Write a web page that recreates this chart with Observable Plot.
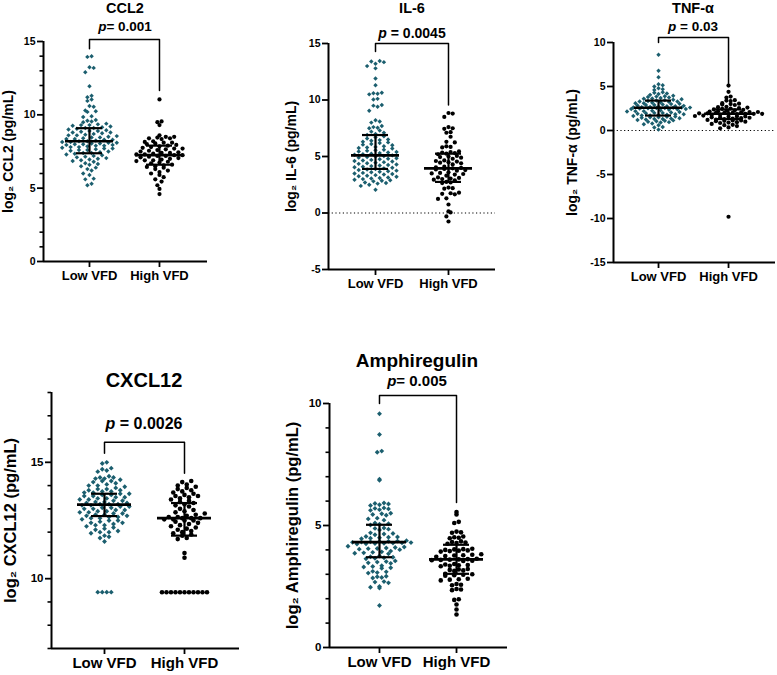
<!DOCTYPE html>
<html><head><meta charset="utf-8">
<script src="https://cdn.jsdelivr.net/npm/d3@7"></script>
<script src="https://cdn.jsdelivr.net/npm/@observablehq/plot@0.6"></script>
<style>
body{margin:0;background:#fff;}
#chart{position:relative;width:777px;height:675px;overflow:hidden;font-family:"Liberation Sans",Arial,sans-serif;font-weight:bold;color:#000;}
.ttl,.pv{position:absolute;transform:translate(-50%,-50%);white-space:nowrap;line-height:1;}
.panel{position:absolute;}
</style></head><body><div id="chart"></div>
<script>
const groups = ["Low VFD", "High VFD"];

// ---- CCL2 ----
const ccl2Low = [14.0,13.95,13.25,13.2,12.9,11.95,11.3,11.2,11.05,10.95,10.6,10.55,10.3,10.25,10.2,9.9,9.85,9.65,9.6,9.55,9.5,9.4,9.35,9.3,9.3,9.25,9.2,9.15,9.1,9.1,9.05,9.0,8.95,8.9,8.9,8.85,8.8,8.8,8.75,8.7,8.65,8.6,8.6,8.55,8.5,8.45,8.45,8.4,8.35,8.35,8.3,8.3,8.25,8.2,8.2,8.15,8.15,8.1,8.1,8.05,8.05,8.0,8.0,7.95,7.95,7.9,7.9,7.85,7.8,7.8,7.75,7.7,7.7,7.65,7.6,7.6,7.55,7.5,7.45,7.4,7.4,7.35,7.3,7.25,7.2,7.15,7.1,7.05,7.0,6.95,6.9,6.85,6.8,6.7,6.65,6.6,6.5,6.4,6.3,6.2,6.0,5.9,5.65,5.6,5.3,5.2];
const ccl2High = [11.05,9.55,9.5,9.3,8.6,8.5,8.5,8.45,8.4,8.4,8.35,8.2,8.15,8.1,8.1,8.05,8.0,7.95,7.9,7.85,7.8,7.75,7.7,7.7,7.65,7.6,7.55,7.5,7.45,7.4,7.4,7.35,7.3,7.3,7.25,7.25,7.2,7.2,7.15,7.1,7.05,7.0,6.95,6.9,6.9,6.85,6.8,6.75,6.7,6.6,6.55,6.5,6.45,6.4,6.3,6.2,6.1,6.0,5.9,5.75,5.6,5.45,5.2,4.95,4.6];
const ccl2Stats = [[7.38,8.2,9.09],[6.6,7.25,7.9]];   // [Q1, median, Q3]
const ccl2Bracket = [14.5,15.14,11.66];              // left leg end, top, right leg end

// ---- IL-6 ----
const il6Low = [13.45,13.4,13.35,13.2,13.0,12.8,11.9,11.3,10.65,10.6,10.55,10.5,10.1,10.05,9.55,9.5,9.4,9.05,8.2,8.1,8.0,7.7,7.6,7.55,7.5,7.3,7.2,7.1,7.0,6.9,6.8,6.7,6.6,6.5,6.45,6.4,6.3,6.25,6.2,6.1,6.05,6.0,5.9,5.85,5.8,5.75,5.7,5.6,5.55,5.5,5.45,5.4,5.35,5.3,5.25,5.2,5.15,5.1,5.05,5.0,4.95,4.9,4.85,4.8,4.75,4.7,4.65,4.6,4.55,4.5,4.45,4.4,4.35,4.3,4.25,4.2,4.15,4.1,4.05,4.0,3.95,3.9,3.85,3.8,3.75,3.7,3.65,3.6,3.55,3.5,3.45,3.4,3.35,3.3,3.25,3.2,3.15,3.1,3.05,3.0,2.95,2.9,2.85,2.8,2.7,2.65,2.6,2.5,2.4,2.05];
const il6High = [8.85,8.8,8.5,7.6,7.5,7.45,7.15,7.1,6.75,6.3,6.25,5.9,5.85,5.8,5.45,5.4,5.35,5.3,5.25,5.2,5.05,5.0,4.95,4.9,4.8,4.65,4.6,4.55,4.5,4.45,4.4,4.3,4.1,4.05,4.0,3.95,3.9,3.85,3.8,3.75,3.6,3.55,3.5,3.45,3.4,3.3,3.15,3.1,3.05,3.0,2.95,2.9,2.75,2.7,2.65,2.25,2.2,2.15,1.8,1.75,1.7,1.65,1.3,1.25,0.75,0.15,0.05,-0.3,-0.75];
const il6Stats = [[3.9,5.1,6.9],[2.75,3.95,5.25]];
const il6Bracket = [14.3,15.0,9.56];

// ---- TNF-alpha ----
const tnfLow = [8.6,6.8,6.05,5.25,5.15,5.0,4.8,4.7,4.6,4.35,4.3,4.2,4.15,4.05,3.95,3.9,3.85,3.8,3.75,3.7,3.65,3.6,3.55,3.5,3.45,3.4,3.35,3.3,3.3,3.25,3.2,3.15,3.1,3.1,3.05,3.0,2.95,2.9,2.9,2.85,2.8,2.75,2.75,2.7,2.68,2.65,2.62,2.6,2.6,2.58,2.55,2.55,2.52,2.5,2.45,2.45,2.4,2.35,2.3,2.25,2.2,2.2,2.15,2.1,2.05,2.0,2.0,1.95,1.9,1.85,1.85,1.8,1.75,1.7,1.7,1.65,1.6,1.55,1.5,1.5,1.45,1.4,1.35,1.3,1.3,1.25,1.2,1.15,1.1,1.05,1.0,0.95,0.9,0.8,0.7,0.6,0.4,0.35,0.1];
const tnfHigh = [5.1,4.4,3.85,3.75,3.45,3.4,3.35,3.1,3.05,3.0,2.95,2.9,2.7,2.65,2.6,2.55,2.5,2.45,2.4,2.35,2.3,2.25,2.2,2.15,2.1,2.1,2.05,2.0,2.0,2.0,1.95,1.95,1.9,1.9,1.9,1.85,1.85,1.8,1.75,1.7,1.65,1.6,1.6,1.55,1.5,1.5,1.45,1.4,1.35,1.3,1.25,1.2,1.15,1.15,1.1,1.05,1.0,0.95,0.9,0.85,0.75,0.65,0.6,0.5,0.35,0.25,-9.8];
const tnfStats = [[1.7,2.58,3.4],[1.3,1.9,2.4]];
const tnfBracket = [10.0,10.57,5.3];

// ---- CXCL12 ----
const cxcl12Low = [15.0,14.95,14.75,14.7,14.65,14.6,14.4,14.35,14.35,14.3,14.3,14.25,14.2,14.2,14.15,14.1,14.05,14.0,14.0,13.95,13.9,13.85,13.85,13.8,13.8,13.75,13.75,13.7,13.7,13.65,13.65,13.6,13.6,13.55,13.55,13.5,13.5,13.45,13.45,13.4,13.4,13.35,13.35,13.3,13.3,13.25,13.25,13.2,13.2,13.2,13.15,13.15,13.1,13.1,13.05,13.05,13.0,13.0,12.95,12.95,12.9,12.9,12.85,12.85,12.8,12.8,12.75,12.75,12.7,12.7,12.65,12.65,12.6,12.6,12.55,12.5,12.5,12.45,12.4,12.4,12.35,12.3,12.3,12.25,12.2,12.15,12.1,12.05,12.0,12.0,11.95,11.85,11.8,11.75,11.6,9.42,9.42,9.42,9.42];
const cxcl12High = [14.2,14.15,14.05,14.0,13.95,13.9,13.85,13.8,13.75,13.7,13.65,13.6,13.55,13.55,13.5,13.45,13.4,13.35,13.3,13.25,13.2,13.15,13.1,13.0,12.95,12.9,12.85,12.8,12.75,12.7,12.65,12.65,12.6,12.6,12.6,12.55,12.55,12.5,12.5,12.45,12.4,12.35,12.3,12.25,12.2,12.15,12.1,12.05,12.0,11.95,11.9,11.85,11.75,11.7,11.1,10.9,9.42,9.42,9.42,9.42,9.42,9.42,9.42,9.42,9.42,9.42,9.42];
const cxcl12Stats = [[12.69,13.18,13.65],[11.85,12.6,13.25]];
const cxcl12Bracket = [15.39,15.86,14.53];

// ---- Amphiregulin ----
const amphLow = [9.58,8.73,8.05,8.0,6.9,6.85,5.92,5.9,5.88,5.85,5.82,5.72,5.7,5.68,5.65,5.62,5.5,5.48,5.45,5.42,5.3,5.27,5.22,5.1,5.07,5.05,5.02,4.9,4.88,4.85,4.82,4.7,4.67,4.65,4.62,4.55,4.53,4.52,4.5,4.48,4.46,4.38,4.36,4.35,4.34,4.33,4.32,4.31,4.3,4.29,4.28,4.27,4.26,4.25,4.24,4.15,4.12,4.1,4.08,4.06,4.05,4.03,4.01,3.95,3.92,3.9,3.88,3.86,3.84,3.75,3.72,3.7,3.68,3.66,3.64,3.55,3.52,3.5,3.47,3.45,3.35,3.32,3.3,3.27,3.25,3.12,3.1,3.07,3.05,2.92,2.9,2.87,2.85,2.7,2.68,2.65,2.5,2.47,2.44,1.72];
const amphHigh = [5.55,5.45,5.15,5.1,4.75,4.72,4.7,4.55,4.52,4.5,4.48,4.35,4.32,4.3,4.28,4.25,4.05,4.03,4.02,4.0,3.98,3.97,3.95,3.93,3.82,3.8,3.78,3.77,3.75,3.72,3.64,3.62,3.61,3.6,3.59,3.58,3.56,3.55,3.42,3.4,3.38,3.37,3.35,3.33,3.22,3.2,3.18,3.16,3.14,3.02,3.0,2.98,2.96,2.94,2.82,2.8,2.78,2.75,2.6,2.57,2.55,2.4,2.38,2.35,1.98,1.95,1.76,1.56,1.35];
const amphStats = [[3.70,4.32,5.03],[3.02,3.61,4.21]];
const amphBracket = [10.0,10.33,5.94];

// tick labels
const ticksCCL2 = [0,5,10,15], minorCCL2 = [1,2,3,4,6,7,8,9,11,12,13,14];
const ticksIL6 = [-5,0,5,10,15];
const ticksTNF = [-15,-10,-5,0,5,10];
const ticksCXCL12 = [10,15], minorCXCL12 = [7,8,9,11,12,13,14,16,17,18];
const ticksAmph = [0,5,10], minorAmph = [1,2,3,4,6,7,8,9];

const teal = "#1b5e6e";

const panels = [
  {title:"CCL2", p:"= 0.001", ylab:"log\u2082 CCL2 (pg/mL)", low:ccl2Low, high:ccl2High, stats:ccl2Stats, bracket:ccl2Bracket,
   ticks:ticksCCL2, minor:minorCCL2, yDomain:[0,15], zero:false,
   left:0, top:0, width:215, height:295, mL:43, mR:8, mT:41, mB:34, xDomain:[-0.657,1.686],
   labOff:40, fs:{tick:10.5, x:13, lab:14, title:14.5, p:13.5}, titleXY:[125,8], pXY:[125,27], r:[2.0,2.1], sp:4.2, band:1.5},
  {title:"IL-6", p:" = 0.0045", ylab:"log\u2082 IL-6 (pg/mL)", low:il6Low, high:il6High, stats:il6Stats, bracket:il6Bracket,
   ticks:ticksIL6, minor:null, yDomain:[-5,15], zero:true,
   left:260, top:0, width:250, height:300, mL:68, mR:15, mT:43, mB:31, xDomain:[-0.644,1.644],
   labOff:42, fs:{tick:10.5, x:13, lab:14, title:14.5, p:14}, titleXY:[412,8], pXY:[412,33], r:[2.0,2.1], sp:4.2, band:1.5},
  {title:"TNF-\u03b1", p:" = 0.03", ylab:"log\u2082 TNF-\u03b1 (pg/mL)", low:tnfLow, high:tnfHigh, stats:tnfStats, bracket:tnfBracket,
   ticks:ticksTNF, minor:null, yDomain:[-15,10], zero:true,
   left:515, top:0, width:262, height:295, mL:98, mR:2, mT:42, mB:33, xDomain:[-0.643,1.671],
   labOff:46, fs:{tick:10.5, x:13, lab:14, title:14.5, p:13.5}, titleXY:[693,8], pXY:[693,27], r:[2.0,2.1], sp:4.2, band:1.0},
  {title:"CXCL12", p:" = 0.0026", ylab:"log\u2082 CXCL12 (pg/mL)", low:cxcl12Low, high:cxcl12High, stats:cxcl12Stats, bracket:cxcl12Bracket,
   ticks:ticksCXCL12, minor:minorCXCL12, yDomain:[7,18], zero:false,
   left:0, top:300, width:250, height:375, mL:51, mR:11, mT:92, mB:27, xDomain:[-0.6625,1.6875],
   labOff:47, fs:{tick:11.5, x:15, lab:16.5, title:20, p:16}, titleXY:[144,380], pXY:[144,424], r:[2.2,2.3], sp:4.5, band:1.5},
  {title:"Amphiregulin", p:"= 0.005", ylab:"log\u2082 Amphiregulin (pg/mL)", low:amphLow, high:amphHigh, stats:amphStats, bracket:amphBracket,
   ticks:ticksAmph, minor:minorAmph, yDomain:[0,10], zero:false,
   left:260, top:300, width:255, height:375, mL:69, mR:8, mT:103, mB:28, xDomain:[-0.649,1.662],
   labOff:43, fs:{tick:11.5, x:15, lab:16.5, title:19, p:15}, titleXY:[417,360], pXY:[417,380], r:[2.2,2.3], sp:4.5, band:1.5}
];

const chart = document.getElementById("chart");

for (const c of panels) {
  const yS = d3.scaleLinear(c.yDomain, [c.height - c.mB, c.mT]);
  const pxX = (c.width - c.mL - c.mR) / (c.xDomain[1] - c.xDomain[0]);
  const rowH = c.sp * c.band;   // row band height (px) used to group points side by side
  function swarm(vals, gi) {
    const bins = d3.group(vals, v => Math.round(yS(v) / rowH));
    const out = [];
    for (const [, arr] of bins) {
      const s = arr.slice().sort(d3.ascending);
      const n = s.length, half = Math.ceil(n / 2);
      for (let j = 0; j < n; j++) {
        const v = j % 2 === 0 ? s[j / 2] : s[half + (j - 1) / 2];
        out.push({g: gi, x: gi + (j - (n - 1) / 2) * c.sp / pxX, y: v});
      }
    }
    return out;
  }
  const lowPts = swarm(c.low, 0), highPts = swarm(c.high, 1);
  const stats = c.stats.map((s, g) => ({g, q1: s[0], med: s[1], q3: s[2]}));
  const medHW = (c.fs.x >= 15 ? 27 : 24) / pxX, qHW = 13 / pxX;
  const br = c.bracket;
  const bracketPts = [{x:0,y:br[0]},{x:0,y:br[1]},{x:1,y:br[1]},{x:1,y:br[2]}];

  const svg = Plot.plot({
    width: c.width, height: c.height,
    marginLeft: c.mL, marginRight: c.mR, marginTop: c.mT, marginBottom: c.mB,
    x: {domain: c.xDomain},
    y: {domain: c.yDomain},
    style: {fontFamily: "'Liberation Sans', Arial, sans-serif", fontWeight: "bold", color: "#000", background: "transparent", overflow: "visible"},
    marks: [
      c.zero ? Plot.ruleY([0], {stroke: "#000", strokeWidth: 1.2, strokeDasharray: "1.2,2.5"}) : null,
      Plot.dot(lowPts, {x: "x", y: "y", symbol: "diamond2", r: c.r[0], fill: teal, stroke: "none"}),
      Plot.dot(highPts, {x: "x", y: "y", symbol: "circle", r: c.r[1], fill: "#000", stroke: "none"}),
      Plot.ruleY(stats, {y: "med", x1: d => d.g - medHW, x2: d => d.g + medHW, stroke: "#000", strokeWidth: 2.6}),
      Plot.ruleY(stats, {y: "q1", x1: d => d.g - qHW, x2: d => d.g + qHW, stroke: "#000", strokeWidth: 2.2}),
      Plot.ruleY(stats, {y: "q3", x1: d => d.g - qHW, x2: d => d.g + qHW, stroke: "#000", strokeWidth: 2.2}),
      Plot.ruleX(stats, {x: "g", y1: "q1", y2: "q3", stroke: "#000", strokeWidth: 2.2}),
      Plot.line(bracketPts, {x: "x", y: "y", stroke: "#000", strokeWidth: 1.5, clip: false}),
      Plot.ruleX([c.xDomain[0]], {stroke: "#000", strokeWidth: 2}),
      Plot.ruleY([c.yDomain[0]], {stroke: "#000", strokeWidth: 2}),
      Plot.axisY(c.ticks, {tickSize: 6, tickPadding: 2, fontSize: c.fs.tick, fontWeight: "bold", fill: "#000", stroke: "#000", strokeWidth: 1.8, label: null, tickFormat: d => String(d)}),
      c.minor ? Plot.axisY(c.minor, {tickSize: 3.5, stroke: "#000", strokeWidth: 1.6, tickFormat: () => "", label: null}) : null,
      Plot.axisY([], {tickSize: 0, label: c.ylab, labelArrow: "none", labelAnchor: "center", labelOffset: c.labOff, fontSize: c.fs.lab, fontWeight: "bold", fill: "#000"}),
      Plot.axisX([0, 1], {tickSize: 6, tickPadding: 3, stroke: "#000", strokeWidth: 1.8, fontSize: c.fs.x, fontWeight: "bold", fill: "#000", tickFormat: i => groups[i], label: null})
    ]
  });
  svg.classList.add("panel");
  svg.style.left = c.left + "px";
  svg.style.top = c.top + "px";
  chart.appendChild(svg);

  const t = document.createElement("div");
  t.className = "ttl";
  t.style.left = c.titleXY[0] + "px"; t.style.top = c.titleXY[1] + "px"; t.style.fontSize = c.fs.title + "px";
  t.textContent = c.title;
  chart.appendChild(t);

  const pv = document.createElement("div");
  pv.className = "pv";
  pv.style.left = c.pXY[0] + "px"; pv.style.top = c.pXY[1] + "px"; pv.style.fontSize = c.fs.p + "px";
  pv.innerHTML = "<i>p</i>" + c.p;
  chart.appendChild(pv);
}
</script></body></html>
